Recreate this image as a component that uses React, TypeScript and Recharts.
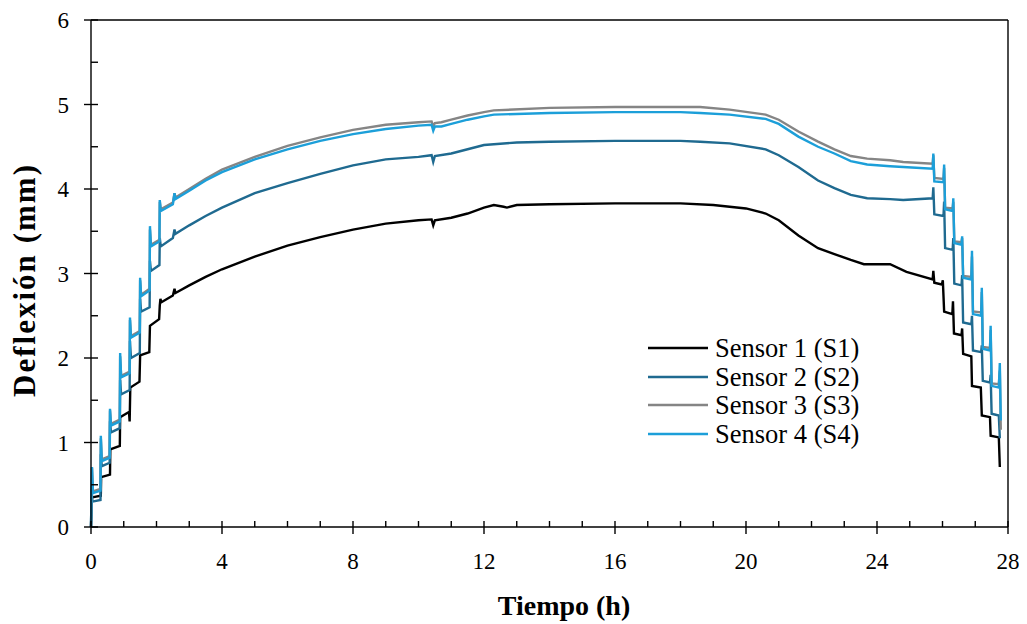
import { LineChart, Line, XAxis, YAxis, ReferenceLine } from 'recharts'

// time (h), deflection (mm)
const sensor1: [number, number][] = [
  [0, 0], [0.03, 0.35], [0.3, 0.37], [0.31, 0.59], [0.58, 0.62], [0.59, 0.92], [0.88, 0.96], [0.89, 1.3],
  [1.16, 1.36], [1.18, 1.25], [1.2, 1.65], [1.48, 1.72], [1.5, 2.03], [1.78, 2.07], [1.8, 2.38], [2.08, 2.46],
  [2.1, 2.62], [2.12, 2.7], [2.15, 2.66], [2.5, 2.74], [2.55, 2.82], [2.58, 2.77], [3, 2.86], [3.5, 2.96],
  [4, 3.05], [5, 3.2], [6, 3.33], [7, 3.43], [8, 3.52], [9, 3.59], [10, 3.63], [10.4, 3.64], [10.45, 3.57],
  [10.5, 3.63], [11, 3.66], [11.5, 3.71], [12, 3.78], [12.3, 3.81], [12.6, 3.79], [12.7, 3.78], [13, 3.81],
  [14, 3.82], [16, 3.83], [18, 3.83], [19, 3.81], [20, 3.77], [20.6, 3.71], [21, 3.63], [21.6, 3.45],
  [22.2, 3.3], [22.7, 3.23], [23.2, 3.16], [23.6, 3.11], [24.4, 3.11], [24.9, 3.02], [25.7, 2.93],
  [25.72, 3.03], [25.75, 2.89], [25.98, 2.87], [26.01, 2.92], [26.05, 2.55], [26.3, 2.52], [26.32, 2.67],
  [26.35, 2.29], [26.58, 2.27], [26.6, 2.35], [26.63, 2.05], [26.88, 2.02], [26.9, 1.67], [27.17, 1.65],
  [27.2, 1.32], [27.45, 1.3], [27.47, 1.08], [27.72, 1.06], [27.75, 0.71],
]

const sensor2: [number, number][] = [
  [0, 0], [0.02, 0.45], [0.04, 0.3], [0.29, 0.32], [0.3, 0.86], [0.33, 0.72], [0.57, 0.76], [0.58, 1.25],
  [0.61, 1.12], [0.88, 1.17], [0.89, 1.74], [0.92, 1.57], [1.18, 1.62], [1.19, 2.2], [1.22, 2.0], [1.49, 2.06],
  [1.5, 2.7], [1.53, 2.55], [1.79, 2.6], [1.8, 3.15], [1.83, 3.03], [2.09, 3.1], [2.1, 3.42], [2.13, 3.32],
  [2.5, 3.42], [2.55, 3.52], [2.58, 3.47], [3, 3.57], [3.5, 3.68], [4, 3.78], [5, 3.95], [6, 4.07], [7, 4.18],
  [8, 4.28], [9, 4.35], [10, 4.38], [10.4, 4.4], [10.45, 4.32], [10.5, 4.39], [11, 4.42], [11.5, 4.47],
  [12, 4.52], [12.3, 4.53], [13, 4.55], [14, 4.56], [16, 4.57], [18, 4.57], [18.6, 4.56], [19.5, 4.54],
  [20.6, 4.47], [21, 4.4], [21.6, 4.26], [22.2, 4.1], [22.7, 4.01], [23.2, 3.93], [23.7, 3.89], [24.4, 3.88],
  [24.8, 3.87], [25.7, 3.89], [25.72, 4.02], [25.75, 3.7], [26.03, 3.68], [26.05, 3.85], [26.08, 3.3],
  [26.31, 3.28], [26.33, 3.42], [26.36, 2.88], [26.58, 2.86], [26.6, 2.98], [26.63, 2.42], [26.88, 2.4],
  [26.9, 2.5], [26.93, 2.09], [27.18, 2.07], [27.2, 2.15], [27.23, 1.73], [27.45, 1.71], [27.47, 1.8],
  [27.5, 1.34], [27.72, 1.32], [27.75, 1.05],
]

const sensor3: [number, number][] = [
  [0, 0], [0.03, 0.7], [0.06, 0.42], [0.29, 0.45], [0.3, 1.05], [0.33, 0.8], [0.57, 0.84], [0.58, 1.38],
  [0.61, 1.22], [0.88, 1.27], [0.89, 2.02], [0.92, 1.79], [1.18, 1.84], [1.19, 2.45], [1.22, 2.26],
  [1.49, 2.32], [1.5, 2.92], [1.53, 2.75], [1.79, 2.82], [1.8, 3.52], [1.83, 3.34], [2.09, 3.4], [2.1, 3.85],
  [2.13, 3.76], [2.5, 3.84], [2.55, 3.95], [2.58, 3.9], [3, 4.0], [3.5, 4.12], [4, 4.23], [5, 4.38], [6, 4.51],
  [7, 4.61], [8, 4.7], [9, 4.76], [10, 4.79], [10.4, 4.8], [10.45, 4.74], [10.5, 4.78], [10.7, 4.79],
  [11, 4.82], [11.5, 4.87], [12, 4.91], [12.3, 4.93], [14, 4.96], [16, 4.97], [18, 4.97], [18.6, 4.97],
  [19.5, 4.94], [20.6, 4.88], [21, 4.82], [21.6, 4.68], [22.2, 4.56], [22.7, 4.47], [23.2, 4.39], [23.7, 4.36],
  [24.4, 4.34], [24.8, 4.32], [25.7, 4.3], [25.72, 4.4], [25.75, 4.13], [26.03, 4.12], [26.05, 4.25],
  [26.08, 3.78], [26.31, 3.77], [26.33, 3.85], [26.36, 3.38], [26.58, 3.37], [26.6, 3.42], [26.63, 2.97],
  [26.88, 2.96], [26.9, 3.2], [26.93, 2.55], [27.18, 2.54], [27.2, 2.78], [27.23, 2.13], [27.45, 2.12],
  [27.47, 2.33], [27.5, 1.7], [27.72, 1.69], [27.75, 1.85], [27.78, 1.15],
]

const sensor4: [number, number][] = [
  [0, 0], [0.03, 0.71], [0.06, 0.4], [0.29, 0.43], [0.3, 1.08], [0.33, 0.78], [0.57, 0.82], [0.58, 1.4],
  [0.61, 1.2], [0.88, 1.25], [0.89, 2.06], [0.92, 1.77], [1.18, 1.82], [1.19, 2.48], [1.22, 2.24], [1.49, 2.3],
  [1.5, 2.95], [1.53, 2.73], [1.79, 2.8], [1.8, 3.56], [1.83, 3.32], [2.09, 3.38], [2.1, 3.87], [2.13, 3.74],
  [2.5, 3.82], [2.55, 3.95], [2.58, 3.88], [3, 3.98], [3.5, 4.1], [4, 4.2], [5, 4.35], [6, 4.47], [7, 4.57],
  [8, 4.65], [9, 4.71], [10, 4.75], [10.4, 4.76], [10.45, 4.69], [10.5, 4.74], [10.7, 4.74], [11, 4.77],
  [11.5, 4.82], [12, 4.86], [12.3, 4.88], [14, 4.9], [16, 4.91], [18, 4.91], [18.6, 4.9], [19.5, 4.88],
  [20.6, 4.83], [21, 4.77], [21.6, 4.62], [22.2, 4.5], [22.7, 4.42], [23.2, 4.33], [23.7, 4.29], [24.4, 4.27],
  [24.8, 4.26], [25.7, 4.24], [25.72, 4.42], [25.75, 4.09], [26.03, 4.08], [26.05, 4.29], [26.08, 3.76],
  [26.31, 3.74], [26.33, 3.89], [26.36, 3.36], [26.58, 3.34], [26.6, 3.44], [26.63, 2.95], [26.88, 2.93],
  [26.9, 3.27], [26.93, 2.52], [27.18, 2.5], [27.2, 2.83], [27.23, 2.11], [27.45, 2.09], [27.47, 2.38],
  [27.5, 1.67], [27.72, 1.65], [27.75, 1.94], [27.78, 1.26],
]

// every tick position; labels only on the major ones
const xTicks = [0, 1, 2, 3, 4, 5, 6, 7, 8, 9, 10, 11, 12, 13, 14, 15, 16, 17, 18, 19, 20, 21, 22, 23, 24, 25, 26, 27, 28]
const xLabelled = [0, 4, 8, 12, 16, 20, 24, 28]
const yTicks = [0, 0.5, 1, 1.5, 2, 2.5, 3, 3.5, 4, 4.5, 5, 5.5, 6]
const yLabelled = [0, 1, 2, 3, 4, 5, 6]

const series = [
  { name: 'Sensor 1 (S1)', color: '#000000', points: sensor1 },
  { name: 'Sensor 2 (S2)', color: '#1f6a90', points: sensor2 },
  { name: 'Sensor 3 (S3)', color: '#858585', points: sensor3 },
  { name: 'Sensor 4 (S4)', color: '#1c9fd9', points: sensor4 },
]

const font = '"Liberation Serif", "Times New Roman", serif'
const TICK_SIZE = 7
const X_GAP = 18
const Y_GAP = 15

// tick marks cross the axis on major ticks, point inwards on minor ones
function XTick(props: any) {
  const { x, y, payload } = props
  const axisY = y - TICK_SIZE - X_GAP
  const major = xLabelled.includes(payload.value)
  return (
    <g>
      <line x1={x} x2={x} y1={axisY - 6} y2={major ? axisY + TICK_SIZE : axisY} stroke="#000" strokeWidth={1.4} />
      {major && (
        <text x={x} y={y + 1} dy="0.71em" textAnchor="middle" fontSize={23} fontFamily={font} fill="#000">
          {payload.value}
        </text>
      )}
    </g>
  )
}

function YTick(props: any) {
  const { x, y, payload } = props
  const axisX = x + TICK_SIZE + Y_GAP
  const major = yLabelled.includes(payload.value)
  return (
    <g>
      <line x1={major ? axisX - TICK_SIZE : axisX} x2={axisX + 7} y1={y} y2={y} stroke="#000" strokeWidth={1.4} />
      {major && (
        <text x={x} y={y} dy="0.355em" textAnchor="end" fontSize={23} fontFamily={font} fill="#000">
          {payload.value}
        </text>
      )}
    </g>
  )
}

export default function App() {
  return (
    <div style={{ position: 'relative', width: 1019, height: 616 }}>
      <LineChart width={1019} height={616} margin={{ top: 12, right: 19, bottom: 37, left: 23 }}>
        <XAxis type="number" dataKey="t" domain={[0, 28]} ticks={xTicks} interval={0} height={60}
          tickSize={TICK_SIZE} tickMargin={X_GAP} tick={<XTick />} tickLine={false}
          axisLine={{ stroke: '#000', strokeWidth: 1.4 }}
          label={{
            content: () => (
              <text x={556} y={607} textAnchor="middle" fontSize={28} fontWeight="bold" fontFamily={font} fill="#000">
                Tiempo (h)
              </text>
            ),
          }} />
        <YAxis type="number" domain={[0, 6]} ticks={yTicks} interval={0} width={60}
          tickSize={TICK_SIZE} tickMargin={Y_GAP} tick={<YTick />} tickLine={false}
          axisLine={{ stroke: '#000', strokeWidth: 1.4 }}
          label={{
            content: () => (
              <text x={27} y={273} transform="rotate(-90 27 273)" textAnchor="middle" fontSize={31}
                fontWeight="bold" fontFamily={font} fill="#000" textLength={232} lengthAdjust="spacing">
                Deflexión (mm)
              </text>
            ),
          }} />
        <ReferenceLine y={6} stroke="#000" strokeWidth={1.4} />
        <ReferenceLine x={28} stroke="#000" strokeWidth={1.4} />
        {series.map((s) => (
          <Line key={s.name} name={s.name} data={s.points.map(([t, v]) => ({ t, v }))} dataKey="v"
            type="linear" stroke={s.color} strokeWidth={2.4} dot={false} isAnimationActive={false} />
        ))}
      </LineChart>
      <div style={{ position: 'absolute', left: 640, top: 326, fontFamily: font, fontSize: 26.5, lineHeight: '28.5px', color: '#000' }}>
        {series.map((s) => (
          <div key={s.name} style={{ display: 'flex', alignItems: 'center', height: 28.5 }}>
            <svg width={67} height={10}>
              <line x1={0} y1={5} x2={60} y2={5} stroke={s.color} strokeWidth={2.5} />
            </svg>
            <span>{s.name}</span>
          </div>
        ))}
      </div>
    </div>
  )
}
